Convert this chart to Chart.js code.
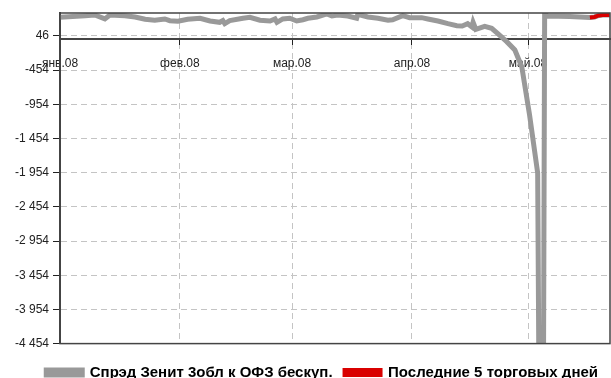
<!DOCTYPE html>
<html>
<head>
<meta charset="utf-8">
<script src="https://cdn.jsdelivr.net/npm/chart.js@4"></script>
<style>
html,body{margin:0;padding:0;background:#fff;}
#wrap{width:611px;height:378px;position:relative;}
</style>
</head>
<body>
<div id="wrap"><canvas id="c"></canvas></div>
<script>
// x values: days since 1 Jan 2008
const days = [0,6.5,9,11.6,12.9,16.8,19.4,22,24.5,27.1,28.4,30.5,33,36.2,38.8,41.3,42.1,42.6,43.9,47.3,49.1,51.7,54.3,55.6,56.1,57.6,59.4,61.2,62.8,64.1,66.4,69,70.3,71.8,74.4,76.7,77,79.6,82.2,84.8,86,88.6,90.4,93.5,95.1,97.7,100.3,102.6,104,105.4,106.5,106.8,107.5,109.8,111.6,113.2,115.5,117.6,119.4,121.4,123.5,124.6,125.3,126.1,131.8,137,138.2,139.3,140.3,142.1];
const spread = [319,343,353,295,353,343,324,290,276,295,270,261,290,305,265,246,270,226,270,305,319,276,265,295,246,295,305,265,284,305,324,368,338,353,338,305,363,324,305,276,284,343,314,314,295,265,226,197,192,226,178,246,144,188,159,80,-37,-159,-407,-1109,-1957,-12000,368,338,331,316,324,346,353,353];
const lastDays = days.slice(-5);
const lastSpread = spread.slice(-5);
const monthTicks = [0,31,60,91,121];
const monthLabels = ['янв.08','фев.08','мар.08','апр.08','май.08'];
const yTicks = [46,-454,-954,-1454,-1954,-2454,-2954,-3454,-3954,-4454];
const seriesNames = ['Спрэд Зенит 3обл к ОФЗ бескуп.','Последние 5 торговых дней'];

const mainData = days.map((d,i)=>({x:d,y:spread[i]}));
const lastData = lastDays.map((d,i)=>({x:d,y:lastSpread[i]}));

function fmt(v){
  const s = Math.abs(v).toString().replace(/\B(?=(\d{3})+(?!\d))/g,' ');
  return (v<0?'-':'')+s;
}

const frame = {
  id:'frame',
  afterDraw(chart){
    const a = chart.chartArea, ctx = chart.ctx;
    ctx.save();
    ctx.strokeStyle = '#444';
    ctx.lineWidth = 1.5;
    ctx.strokeRect(a.left, a.top, a.right-a.left, a.bottom-a.top);
    ctx.restore();
  }
};

Chart.defaults.font.family = "'Liberation Sans', Arial, sans-serif";
Chart.defaults.color = '#222';

new Chart(document.getElementById('c'), {
  type:'line',
  data:{
    datasets:[
      {label:seriesNames[0], data:mainData, borderColor:'#999', backgroundColor:'#999', borderWidth:5, pointRadius:0, tension:0, order:2},
      {label:seriesNames[1], data:lastData, borderColor:'#d90000', backgroundColor:'#d90000', borderWidth:4, pointRadius:0, tension:0, order:1}
    ]
  },
  options:{
    responsive:true,
    maintainAspectRatio:false,
    animation:false,
    layout:{padding:{top:13,right:1,left:0,bottom:-12}},
    plugins:{
      legend:{
        position:'bottom',
        align:'end',
        title:{display:true, text:' ', font:{size:2}, padding:{top:0,bottom:7}},
        labels:{
          boxWidth:36, boxHeight:5, padding:12,
          color:'#000',
          sort:(a,b)=>a.datasetIndex-b.datasetIndex,
          font:{size:15, weight:'bold'}
        }
      },
      tooltip:{enabled:false}
    },
    scales:{
      x:{
        type:'linear',
        position:{y:0},
        min:0, max:142.2,
        afterBuildTicks(scale){ scale.ticks = monthTicks.map(v=>({value:v})); },
        ticks:{
          autoSkip:false, maxRotation:0, padding:12,
          font:{size:12},
          callback(v){ const i = monthTicks.indexOf(v); return i>=0?monthLabels[i]:''; }
        },
        grid:{color:'#c4c4c4', tickLength:5, tickColor:'#222', tickBorderDash:[]},
        border:{color:'#444', width:2, dash:[6,4]}
      },
      y:{
        min:-4454, max:382,
        afterBuildTicks(scale){ scale.ticks = yTicks.map(v=>({value:v})); },
        afterFit(scale){ scale.width = 60; },
        ticks:{
          padding:4, font:{size:12},
          callback(v){ return fmt(v); }
        },
        grid:{color:'#c4c4c4', tickLength:7, tickColor:'#222', tickBorderDash:[]},
        border:{color:'#444', width:2, dash:[6,4]}
      }
    }
  },
  plugins:[frame]
});
</script>
</body>
</html>
